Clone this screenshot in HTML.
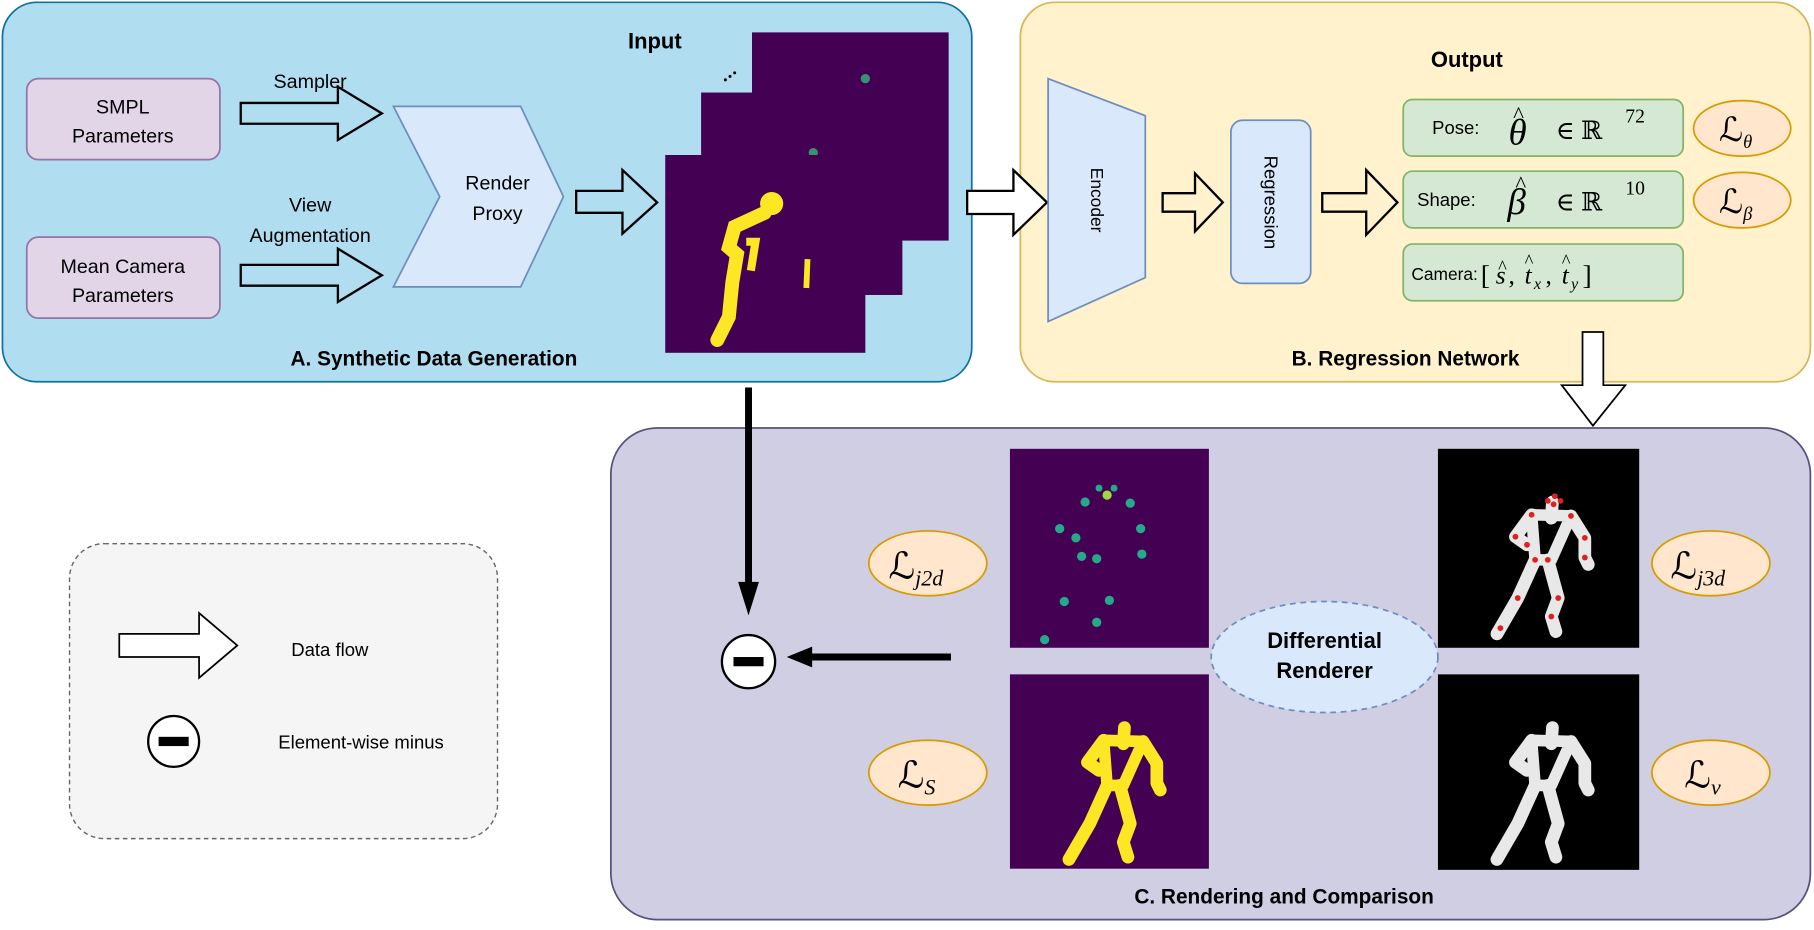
<!DOCTYPE html>
<html><head><meta charset="utf-8"><style>
html,body{margin:0;padding:0;background:#fff;overflow:hidden;}
svg{display:block;}
text{font-family:"Liberation Sans",sans-serif;}
.m{font-family:"Liberation Serif","DejaVu Serif",serif;font-style:italic;}
.r{font-family:"Liberation Serif","DejaVu Serif",serif;}
.L{font-family:"DejaVu Serif","Liberation Serif",serif;}
</style></head><body>
<svg width="1814" height="930" viewBox="0 0 1568 804" xmlns="http://www.w3.org/2000/svg">
<defs>
<g id="fig" fill="none" stroke-linecap="round" stroke-linejoin="round">
<ellipse cx="100" cy="38" rx="10" ry="12" stroke="none"/>
<path d="M81 57 L115 58 L98 96 L84 96 Z" stroke-width="10"/>
<path d="M99 46 L98 60 M81 57 L67 76 L77 83 M115 58 L127 77 L127 94 L130 100 M84 96 L69 129 L51 160 M95 96 L104 129 L98 145 L102 158" stroke-width="11"/>
</g>
</defs>
<rect x="2" y="2" width="838" height="328" rx="30" fill="#b1ddf0" stroke="#10739e" stroke-width="1.5"/>
<rect x="882" y="2" width="683" height="328" rx="30" fill="#fff2cc" stroke="#d6b656" stroke-width="1.5"/>
<rect x="528" y="370" width="1037" height="425" rx="40" fill="#d0cee2" stroke="#56517e" stroke-width="1.5"/>
<rect x="60" y="470" width="370" height="255" rx="30" fill="#f5f5f5" stroke="#666" stroke-width="1.2" stroke-dasharray="4,3"/>

<rect x="23" y="68" width="167" height="70" rx="10" fill="#e1d5e7" stroke="#9673a6" stroke-width="1.5"/>
<text x="106" y="98" font-size="17" text-anchor="middle">SMPL</text>
<text x="106" y="123" font-size="17" text-anchor="middle">Parameters</text>
<rect x="23" y="205" width="167" height="70" rx="10" fill="#e1d5e7" stroke="#9673a6" stroke-width="1.5"/>
<text x="106" y="236" font-size="17" text-anchor="middle">Mean Camera</text>
<text x="106" y="261" font-size="17" text-anchor="middle">Parameters</text>
<text x="268" y="76" font-size="17" text-anchor="middle">Sampler</text>
<text x="268" y="183" font-size="17" text-anchor="middle">View</text>
<text x="268" y="209" font-size="17" text-anchor="middle">Augmentation</text>
<g fill="none" stroke="#000" stroke-width="2">
<path d="M208 89 L292 89 L292 75 L330 98 L292 121 L292 107 L208 107 Z"/>
<path d="M208 229 L292 229 L292 215 L330 238 L292 261 L292 247 L208 247 Z"/>
<path d="M498 165 L538 165 L538 147 L568 175 L538 202 L538 184 L498 184 Z"/>
</g>
<path d="M340 92 L450 92 L487 170 L450 248 L340 248 L380 170 Z" fill="#dae8fc" stroke="#6c8ebf" stroke-width="1.5"/>
<text x="430" y="164" font-size="17" text-anchor="middle">Render</text>
<text x="430" y="190" font-size="17" text-anchor="middle">Proxy</text>
<text x="566" y="42" font-size="19" font-weight="bold" text-anchor="middle">Input</text>
<g fill="#000"><circle cx="627" cy="69" r="1.3"/><circle cx="631" cy="66" r="1.3"/><circle cx="635" cy="63" r="1.3"/></g>
<rect x="650" y="28" width="170" height="180" fill="#440154"/>
<circle cx="748" cy="68" r="4" fill="#35b779" opacity="0.8"/>
<rect x="606" y="80" width="174" height="175" fill="#440154"/>
<circle cx="703" cy="132" r="4" fill="#35b779" opacity="0.8"/>
<rect x="575" y="134" width="173" height="171" fill="#440154"/>
<g transform="translate(575,134)" fill="#fde725" stroke="#fde725">
<circle cx="92" cy="42" r="10" stroke="none"/>
<path d="M86 50 L60 62 L55 80 L62 86 L58 110 L55 140 L45 160" stroke-width="12" fill="none" stroke-linecap="round"/>
<path d="M70 75 L78 75 L74 100" stroke-width="7" fill="none"/>
<path d="M123 90 L122 115" stroke-width="5" fill="none"/>
</g>
<text x="375" y="316" font-size="18" font-weight="bold" text-anchor="middle">A. Synthetic Data Generation</text>

<g fill="none" stroke="#000" stroke-width="2">
<path d="M836 165 L876 165 L876 147 L905 175 L876 203 L876 185 L836 185 Z" fill="#fff"/>
<path d="M1005 167 L1033 167 L1033 150 L1057 175 L1033 200 L1033 183 L1005 183 Z"/>
<path d="M1143 167 L1181 167 L1181 147 L1208 175 L1181 203 L1181 183 L1143 183 Z"/>
</g>
<path d="M906 68 L990 100 L990 240 L906 278 Z" fill="#dae8fc" stroke="#6c8ebf" stroke-width="1.5"/>
<text x="948" y="173" font-size="15" text-anchor="middle" transform="rotate(90 948 173)" dy="5">Encoder</text>
<rect x="1064" y="104" width="69" height="141" rx="10" fill="#dae8fc" stroke="#6c8ebf" stroke-width="1.5"/>
<text x="1098" y="175" font-size="16" text-anchor="middle" transform="rotate(90 1098 175)" dy="5">Regression</text>
<text x="1268" y="58" font-size="19" font-weight="bold" text-anchor="middle">Output</text>

<rect x="1213" y="86" width="242" height="49" rx="8" fill="#d5e8d4" stroke="#82b366" stroke-width="1.5"/>
<text x="1238" y="116" font-size="16">Pose:</text>
<text x="1304" y="125" font-size="32" class="m">θ</text>
<text x="1308" y="106" font-size="20" class="r">^</text>
<text x="1345" y="120" font-size="22" class="r">∈ ℝ</text>
<text x="1405" y="106" font-size="17" class="r">72</text>

<rect x="1213" y="148" width="242" height="49" rx="8" fill="#d5e8d4" stroke="#82b366" stroke-width="1.5"/>
<text x="1225" y="178" font-size="16">Shape:</text>
<text x="1303" y="185" font-size="32" class="m">β</text>
<text x="1310" y="166" font-size="20" class="r">^</text>
<text x="1345" y="182" font-size="22" class="r">∈ ℝ</text>
<text x="1405" y="168" font-size="17" class="r">10</text>

<rect x="1213" y="211" width="242" height="49" rx="8" fill="#d5e8d4" stroke="#82b366" stroke-width="1.5"/>
<text x="1220" y="242" font-size="15">Camera:</text>
<text x="1280" y="246" font-size="24" class="r">[</text>
<text x="1293" y="245" font-size="22" class="m">s</text>
<text x="1295" y="236" font-size="16" class="r">^</text>
<text x="1304" y="245" font-size="22" class="r">,</text>
<text x="1318" y="245" font-size="22" class="m">t</text>
<text x="1318" y="231" font-size="16" class="r">^</text>
<text x="1326" y="250" font-size="14" class="m">x</text>
<text x="1336" y="245" font-size="22" class="r">,</text>
<text x="1350" y="245" font-size="22" class="m">t</text>
<text x="1350" y="231" font-size="16" class="r">^</text>
<text x="1358" y="250" font-size="14" class="m">y</text>
<text x="1368" y="246" font-size="24" class="r">]</text>

<ellipse cx="1506" cy="111" rx="42" ry="24" fill="#ffe6cc" stroke="#d79b00" stroke-width="1.5"/>
<text x="1486" y="122" font-size="29" class="L">ℒ<tspan font-size="16" dy="6" class="m">θ</tspan></text>
<ellipse cx="1506" cy="173" rx="42" ry="24" fill="#ffe6cc" stroke="#d79b00" stroke-width="1.5"/>
<text x="1486" y="184" font-size="29" class="L">ℒ<tspan font-size="16" dy="6" class="m">β</tspan></text>
<text x="1215" y="316" font-size="18" font-weight="bold" text-anchor="middle">B.  Regression Network</text>
<path d="M1368 287 L1386 287 L1386 333 L1405 333 L1377 368 L1350 333 L1368 333 Z" fill="#fff" stroke="#000" stroke-width="1.5"/>

<line x1="647" y1="335" x2="647" y2="505" stroke="#000" stroke-width="6"/>
<path d="M638 503 L656 503 L647 532 Z" fill="#000"/>
<line x1="822" y1="568" x2="700" y2="568" stroke="#000" stroke-width="6"/>
<path d="M702 559 L702 577 L680 568 Z" fill="#000"/>
<circle cx="647" cy="572" r="23" fill="#fff" stroke="#000" stroke-width="2"/>
<rect x="634" y="568" width="26" height="8" fill="#000"/>

<rect x="873" y="388" width="172" height="172" fill="#440154"/>
<g fill="#26a98a">
<circle cx="957" cy="428" r="4" fill="#9bd93c"/><circle cx="950" cy="422" r="3"/><circle cx="963" cy="422" r="3"/>
<circle cx="938" cy="434" r="4"/><circle cx="977" cy="435" r="4"/>
<circle cx="916" cy="457" r="4"/><circle cx="930" cy="465" r="4"/><circle cx="986" cy="457" r="4"/>
<circle cx="935" cy="481" r="4"/><circle cx="948" cy="483" r="4"/><circle cx="987" cy="479" r="4"/>
<circle cx="920" cy="520" r="4"/><circle cx="959" cy="519" r="4"/><circle cx="948" cy="538" r="4"/><circle cx="903" cy="553" r="4"/>
</g>
<rect x="873" y="583" width="172" height="168" fill="#440154"/>
<g transform="translate(873,583)" fill="#fde725" stroke="#fde725"><use href="#fig"/></g>

<rect x="1243" y="388" width="174" height="172" fill="#000"/>
<g transform="translate(1243,388)" fill="#e8e8e8" stroke="#e8e8e8"><use href="#fig"/></g>
<g fill="#e02020" transform="translate(1243,388)">
<circle cx="95" cy="45" r="2.5"/><circle cx="100" cy="48" r="2.5"/><circle cx="106" cy="45" r="2.5"/><circle cx="101" cy="41" r="2.5"/>
<circle cx="81" cy="57" r="2.5"/><circle cx="115" cy="58" r="2.5"/>
<circle cx="67" cy="76" r="2.5"/><circle cx="77" cy="83" r="2.5"/><circle cx="127" cy="77" r="2.5"/><circle cx="127" cy="94" r="2.5"/>
<circle cx="84" cy="96" r="2.5"/><circle cx="95" cy="96" r="2.5"/>
<circle cx="69" cy="129" r="2.5"/><circle cx="104" cy="129" r="2.5"/><circle cx="98" cy="145" r="2.5"/><circle cx="54" cy="155" r="2.5"/>
</g>
<rect x="1243" y="583" width="174" height="169" fill="#000"/>
<g transform="translate(1243,583)" fill="#e8e8e8" stroke="#e8e8e8"><use href="#fig"/></g>

<ellipse cx="1145" cy="568" rx="98" ry="48" fill="#dae8fc" stroke="#6c8ebf" stroke-width="1.5" stroke-dasharray="5,4"/>
<text x="1145" y="560" font-size="19" font-weight="bold" text-anchor="middle">Differential</text>
<text x="1145" y="586" font-size="19" font-weight="bold" text-anchor="middle">Renderer</text>

<ellipse cx="802" cy="487" rx="51" ry="28" fill="#ffe6cc" stroke="#d79b00" stroke-width="1.5"/>
<text x="768" y="500" font-size="32" class="L">ℒ<tspan font-size="19" dy="6" class="m">j2d</tspan></text>
<ellipse cx="802" cy="668" rx="51" ry="28" fill="#ffe6cc" stroke="#d79b00" stroke-width="1.5"/>
<text x="776" y="681" font-size="32" class="L">ℒ<tspan font-size="19" dy="6" class="m">S</tspan></text>
<ellipse cx="1479" cy="487" rx="51" ry="28" fill="#ffe6cc" stroke="#d79b00" stroke-width="1.5"/>
<text x="1444" y="500" font-size="32" class="L">ℒ<tspan font-size="19" dy="6" class="m">j3d</tspan></text>
<ellipse cx="1479" cy="668" rx="51" ry="28" fill="#ffe6cc" stroke="#d79b00" stroke-width="1.5"/>
<text x="1456" y="681" font-size="32" class="L">ℒ<tspan font-size="19" dy="6" class="m">v</tspan></text>
<text x="1110" y="781" font-size="18" font-weight="bold" text-anchor="middle">C.  Rendering and Comparison</text>

<path d="M103 548 L172 548 L172 530 L205 558 L172 586 L172 568 L103 568 Z" fill="#fff" stroke="#000" stroke-width="1.5"/>
<text x="285" y="567" font-size="16" text-anchor="middle">Data flow</text>
<circle cx="150" cy="641" r="22" fill="#fff" stroke="#000" stroke-width="2"/>
<rect x="137" y="637" width="26" height="8" fill="#000"/>
<text x="312" y="647" font-size="16" text-anchor="middle">Element-wise minus</text>
</svg>
</body></html>
